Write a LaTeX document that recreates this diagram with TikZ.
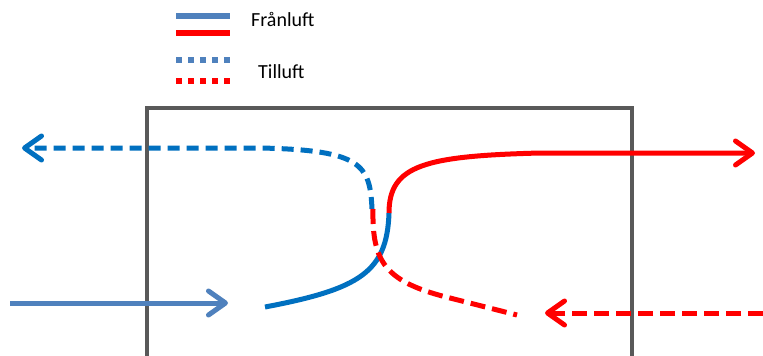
\documentclass[tikz,border=0pt]{standalone}
\usepackage{fontspec}
\setmainfont{Carlito}
\usetikzlibrary{arrows.meta}
\definecolor{lblue}{HTML}{4F81BD}
\definecolor{dblue}{HTML}{0070C0}
\definecolor{boxgray}{HTML}{595959}
\tikzset{
  flow/.style={line width=5pt},
  chev/.style={-{Straight Barb[length=17pt,width=24pt,line cap=round,round]}},
  bdash/.style={dash pattern=on 12pt off 7pt},
  rdash/.style={dash pattern=on 15pt off 7pt},
  legdot/.style={line width=5.5pt, dash pattern=on 6pt off 6pt},
  legline/.style={line width=5.5pt},
  lbl/.style={font=\fontsize{20}{24}\selectfont, anchor=base west, inner sep=0pt}
}
\begin{document}
\begin{tikzpicture}[x=1pt,y=-1pt]
\useasboundingbox (0,0) rectangle (763,356);
\clip (0,0) rectangle (763,356);
\fill[white] (0,0) rectangle (763,356);
% box
\draw[boxgray, line width=4pt] (147,108) rectangle (632,362);
% legend
\draw[legline, lblue] (176,16) -- (230,16);
\draw[legline, red] (176,33) -- (230,33);
\draw[legdot, lblue] (176,60) -- (231,60);
\draw[legdot, red] (176,81) -- (231,81);
\node[lbl] (fr) at (251,27) {Frånluft};
\node[lbl] (ti) at (258,78) {Tilluft};
% coordinates
\coordinate (bdS) at (372,209);
\coordinate (bdK) at (260,148);
\coordinate (bdE) at (22,148);
\coordinate (bsA) at (10,303);
\coordinate (bsB) at (228,303);
\coordinate (bcS) at (265,307);
\coordinate (mid) at (389,213);
\coordinate (rsK) at (540,153);
\coordinate (rsE) at (755,153);
\coordinate (rdS) at (373,209);
\coordinate (rdK) at (450,298);
\coordinate (rdE) at (517,315);
\coordinate (raA) at (763,313);
\coordinate (raB) at (545,313);
% blue dashed (tilluft out)
\draw[flow, dblue, bdash, chev, line cap=butt] (bdS) .. controls (370,165) and (362,150) .. (bdK) -- (bdE);
% blue solid incoming
\draw[flow, lblue, chev] (bsA) -- (bsB);
% blue solid curve
\draw[flow, dblue] (bcS) .. controls (360,289) and (387,272) .. (mid);
% red solid
\draw[flow, red, chev] (mid) .. controls (389,165) and (425,156) .. (rsK) -- (rsE);
% red dashed curve
\draw[flow, red, rdash] (rdS) .. controls (372,262) and (385,282) .. (rdK) -- (rdE);
% red dashed incoming
\draw[flow, red, rdash, chev] (raA) -- (raB);
\end{tikzpicture}
\end{document}
